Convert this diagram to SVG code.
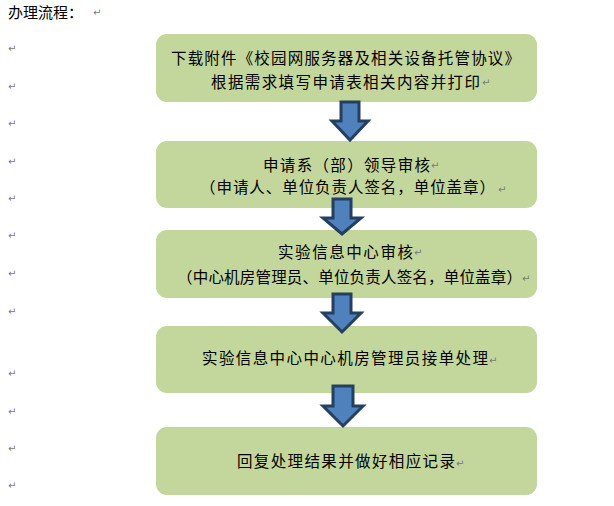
<svg xmlns="http://www.w3.org/2000/svg" width="614" height="506" viewBox="0 0 614 506">
<style>
.box{fill:#C3D69B;}
.t{font-family:"Noto Sans CJK SC","Liberation Sans",sans-serif;font-size:15.5px;fill:#000;}
.h{font-family:"Noto Sans CJK SC","Liberation Sans",sans-serif;font-size:15px;fill:#000;}
.rm{font-family:"DejaVu Sans",sans-serif;font-size:10px;fill:#7a7a7a;}
.arr{fill:#4F81BD;stroke:#243F60;stroke-width:3;stroke-linejoin:miter;}
</style>
<rect width="614" height="506" fill="#fff"/>
<g id="title">
<text class="h" x="8" y="18" textLength="75" lengthAdjust="spacing">办理流程：</text>
<text class="rm" x="93" y="16">↵</text>
</g>
<g id="margin-marks">
<text class="rm" x="8" y="52">↵</text>
<text class="rm" x="8" y="90">↵</text>
<text class="rm" x="8" y="127">↵</text>
<text class="rm" x="8" y="165">↵</text>
<text class="rm" x="8" y="202">↵</text>
<text class="rm" x="8" y="239">↵</text>
<text class="rm" x="8" y="277">↵</text>
<text class="rm" x="8" y="315">↵</text>
<text class="rm" x="8" y="377">↵</text>
<text class="rm" x="8" y="415">↵</text>
<text class="rm" x="8" y="452">↵</text>
<text class="rm" x="8" y="489">↵</text>
</g>
<g id="node1">
<rect class="box" x="156" y="34" width="381" height="68" rx="11"/>
<text class="t" x="171" y="64" textLength="349" lengthAdjust="spacing">下载附件《校园网服务器及相关设备托管协议》</text>
<text class="t" x="211" y="88" textLength="269" lengthAdjust="spacing">根据需求填写申请表相关内容并打印</text>
<text class="rm" x="482" y="86">↵</text>
</g>
<g id="node2">
<rect class="box" x="156" y="141" width="381" height="67" rx="11"/>
<text class="t" x="263" y="171" textLength="167" lengthAdjust="spacing">申请系（部）领导审核</text>
<text class="rm" x="431" y="169">↵</text>
<text class="t" x="200" y="193" textLength="295" lengthAdjust="spacing">（申请人、单位负责人签名，单位盖章）</text>
<text class="rm" x="498" y="193">↵</text>
</g>
<g id="node3">
<rect class="box" x="156" y="230" width="381" height="68" rx="11"/>
<text class="t" x="278" y="258" textLength="135" lengthAdjust="spacing">实验信息中心审核</text>
<text class="rm" x="414" y="256">↵</text>
<text class="t" x="177" y="283" textLength="345" lengthAdjust="spacing">（中心机房管理员、单位负责人签名，单位盖章）</text>
<text class="rm" x="522" y="282">↵</text>
</g>
<g id="node4">
<rect class="box" x="156" y="326" width="381" height="67" rx="11"/>
<text class="t" x="202" y="364" textLength="286" lengthAdjust="spacing">实验信息中心中心机房管理员接单处理</text>
<text class="rm" x="489" y="364">↵</text>
</g>
<g id="node5">
<rect class="box" x="156" y="427" width="381" height="68" rx="11"/>
<text class="t" x="237" y="467" textLength="218" lengthAdjust="spacing">回复处理结果并做好相应记录</text>
<text class="rm" x="456" y="467">↵</text>
</g>
<g id="connectors">
<path class="arr" d="M341,102 H359 V121 H368 L350,140 L332,121 H341 Z"/>
<path class="arr" d="M333,199 H351 V218 H361 L342,234 L323,218 H333 Z"/>
<path class="arr" d="M333,294 H351 V313 H361 L342,332 L323,313 H333 Z"/>
<path class="arr" d="M333,386 H353 V406 H363 L343,426 L323,406 H333 Z"/>
</g>
</svg>
